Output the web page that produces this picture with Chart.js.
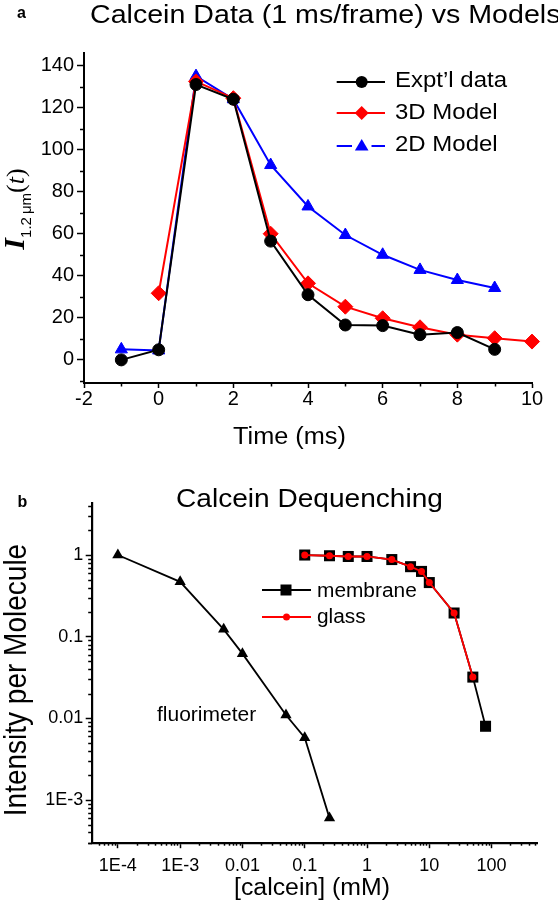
<!DOCTYPE html>
<html><head><meta charset="utf-8">
<script src="https://cdn.jsdelivr.net/npm/chart.js@4.4.1/dist/chart.umd.min.js"></script>
<style>
html,body{margin:0;padding:0;background:#fff;}
body{width:558px;height:905px;position:relative;overflow:hidden;font-family:'Liberation Sans',Arial,Helvetica,sans-serif;color:#000;}
.t{position:absolute;white-space:nowrap;line-height:1;transform-origin:0 0;}
.r{position:absolute;white-space:nowrap;line-height:1;}
canvas{position:absolute;left:0;}
svg{position:absolute;overflow:visible;}
</style></head><body>
<canvas id="cA" width="558" height="460" style="top:0;width:558px;height:460px"></canvas>
<canvas id="cB" width="558" height="445" style="top:460px;width:558px;height:445px"></canvas>

<div class="t" style="left:17px;top:4.8px;font-size:16px;font-weight:bold">a</div>
<div class="t" style="left:89.5px;top:0.6px;font-size:26px;transform:scaleX(1.1)">Calcein Data (1 ms/frame) vs Models</div>
<div class="r" style="left:16px;top:208.5px;font-size:30px;line-height:30px;transform:translate(-50%,-50%) rotate(-90deg)"><span style="font-family:'Liberation Serif',serif;font-style:italic;font-weight:bold">I</span><span style="font-size:15px;position:relative;top:7px;">1.2&#8201;μm</span><span style="font-family:'Liberation Serif',serif;font-size:26px">(<i>t</i>)</span></div>
<div class="t" style="left:233px;top:424.5px;font-size:23px;transform:scaleX(1.1)">Time (ms)</div>

<svg style="left:330px;top:71.7px" width="60" height="20"><line x1="6.7" y1="10" x2="55" y2="10" stroke="#000" stroke-width="2"/><circle cx="31.7" cy="10" r="6" fill="#000"/></svg>
<svg style="left:330px;top:103.3px" width="60" height="20"><line x1="6.7" y1="10" x2="55" y2="10" stroke="#f00" stroke-width="2"/><polygon points="31.7,3 38.7,10 31.7,17 24.7,10" fill="#f00"/></svg>
<svg style="left:330px;top:136px" width="60" height="20"><line x1="6.7" y1="10" x2="22" y2="10" stroke="#00f" stroke-width="2"/><line x1="41.5" y1="10" x2="55" y2="10" stroke="#00f" stroke-width="2"/><polygon points="31.7,3 38.5,14.5 24.9,14.5" fill="#00f"/></svg>
<div class="t" style="left:395px;top:68.7px;font-size:22px;transform:scaleX(1.09)">Expt’l data</div>
<div class="t" style="left:395px;top:100.9px;font-size:22px;transform:scaleX(1.09)">3D Model</div>
<div class="t" style="left:395px;top:133.1px;font-size:22px;transform:scaleX(1.09)">2D Model</div>

<div class="t" style="left:17.5px;top:493.8px;font-size:16px;font-weight:bold">b</div>
<div class="t" style="left:175.5px;top:484.9px;font-size:26px;transform:scaleX(1.08)">Calcein Dequenching</div>
<div class="r" style="left:16.2px;top:680px;font-size:28px;transform:translate(-50%,-50%) rotate(-90deg) scaleY(1.09)">Intensity per Molecule</div>
<div class="t" style="left:234px;top:876px;font-size:23px;transform:scaleX(1.08)">[calcein] (mM)</div>
<div class="t" style="left:157px;top:704px;font-size:20px;transform:scaleX(1.05)">fluorimeter</div>

<svg style="left:255px;top:580px" width="60" height="20"><line x1="7" y1="10" x2="56" y2="10" stroke="#000" stroke-width="2"/><rect x="25.5" y="4.5" width="11" height="11" fill="#000"/></svg>
<svg style="left:255px;top:606.7px" width="60" height="20"><line x1="7" y1="10" x2="56" y2="10" stroke="#f00" stroke-width="2"/><circle cx="31.5" cy="10" r="3.5" fill="#f00"/></svg>
<div class="t" style="left:316.7px;top:580.8px;font-size:19.5px;transform:scaleX(1.07)">membrane</div>
<div class="t" style="left:316.7px;top:606.5px;font-size:19.5px;transform:scaleX(1.07)">glass</div>

<script>
// ---------- panel a data ----------
const timeExpt = [-1, 0, 1, 2, 3, 4, 5, 6, 7, 8, 9];
const exptData = [0, 4.8, 131, 124, 56.5, 31, 16.6, 16.3, 12, 13, 5];
const time3D = [0, 1, 2, 3, 4, 5, 6, 7, 8, 9, 10];
const model3D = [31.7, 132.5, 124.5, 60, 36.4, 25.3, 19.8, 15.5, 12, 10.3, 8.7];
const time2D = [-1, 0, 1, 2, 3, 4, 5, 6, 7, 8, 9];
const model2D = [5, 4.5, 135, 124, 92.7, 73, 59.4, 50, 42.8, 38, 34.2];
const xTicksA = [-2, 0, 2, 4, 6, 8, 10];
const yTicksA = [0, 20, 40, 60, 80, 100, 120, 140];

// ---------- panel b data ----------
const fluorConc = [1e-4, 1e-3, 0.005, 0.01, 0.05, 0.1, 0.25];
const fluorInt = [1.0, 0.47, 0.123, 0.062, 0.011, 0.0058, 0.0006];
const membraneConc = [0.1, 0.25, 0.5, 1, 2.5, 5, 7.5, 10, 25, 50, 80];
const membraneInt = [1.0, 0.98, 0.96, 0.96, 0.88, 0.72, 0.63, 0.46, 0.195, 0.032, 0.008];
const glassConc = [0.1, 0.25, 0.5, 1, 2.5, 5, 7.5, 10, 25, 50];
const glassInt = [1.0, 0.98, 0.96, 0.96, 0.88, 0.72, 0.63, 0.46, 0.195, 0.032];
const xTickLabelsB = ['1E-4', '1E-3', '0.01', '0.1', '1', '10', '100'];
const yTickLabelsB = ['1E-3', '0.01', '0.1', '1'];

const FONT = "'Liberation Sans', Arial, Helvetica, sans-serif";
const pts = (xs, ys) => xs.map((x, i) => ({x: x, y: ys[i]}));

const isMinorA_x = v => !xTicksA.includes(v);
const isMinorA_y = v => !yTicksA.includes(v);
const mant = v => v / Math.pow(10, Math.floor(Math.log10(v) + 1e-9));
const isPow10 = v => Math.abs(mant(v) - 1) < 1e-6;
const isMinorLog = v => !isPow10(v);

const minorTicks = {
  id: 'minorTicks',
  afterDraw(chart, args, opts) {
    const ctx = chart.ctx;
    ctx.save();
    ctx.strokeStyle = '#000';
    ctx.lineWidth = 1.5;
    for (const id of Object.keys(opts.scales || {})) {
      const s = chart.scales[id], cfg = opts.scales[id];
      s.ticks.forEach(t => {
        if (!cfg.isMinor(t.value)) return;
        const p = Math.round(s.getPixelForValue(t.value)) + 0.5;
        ctx.beginPath();
        if (s.isHorizontal()) { ctx.moveTo(p, s.top); ctx.lineTo(p, s.top + cfg.len); }
        else { ctx.moveTo(s.right, p); ctx.lineTo(s.right - cfg.len, p); }
        ctx.stroke();
      });
    }
    ctx.restore();
  }
};

function axisGrid(isMinor, len) {
  return {
    drawOnChartArea: false, drawTicks: true, tickLength: len, tickWidth: 1.5,
    tickColor: c => (c.tick && isMinor(c.tick.value)) ? 'rgba(0,0,0,0)' : '#000'
  };
}

// ---------- chart a ----------
new Chart(document.getElementById('cA'), {
  type: 'scatter',
  data: {
    datasets: [
      {label: "Expt'l data", data: pts(timeExpt, exptData), showLine: true, borderColor: '#000', backgroundColor: '#000',
       borderWidth: 2, pointStyle: 'circle', pointRadius: 6, pointBorderWidth: 1, clip: false},
      {label: '3D Model', data: pts(time3D, model3D), showLine: true, borderColor: '#f00', backgroundColor: '#f00',
       borderWidth: 2, pointStyle: 'rectRot', pointRadius: 7.5, pointBorderWidth: 1, clip: false},
      {label: '2D Model', data: pts(time2D, model2D), showLine: true, borderColor: '#00f', backgroundColor: '#00f',
       borderWidth: 2, pointStyle: 'triangle', pointRadius: 7, pointBorderWidth: 1, clip: false}
    ]
  },
  options: {
    responsive: false, animation: false, devicePixelRatio: 1,
    layout: {padding: {top: 53, right: 26, left: 0, bottom: 0}},
    plugins: {legend: {display: false}, tooltip: {enabled: false},
      minorTicks: {scales: {x: {isMinor: isMinorA_x, len: 3.5}, y: {isMinor: isMinorA_y, len: 4}}}},
    scales: {
      x: {type: 'linear', min: -2, max: 10,
          ticks: {stepSize: 1, autoSkip: false, maxRotation: 0, padding: 1, color: '#000',
                  font: {family: FONT, size: 20, lineHeight: 1},
                  callback: v => xTicksA.includes(v) ? String(v) : ''},
          grid: axisGrid(isMinorA_x, 5),
          border: {display: true, color: '#000', width: 2},
          afterFit: s => { s.height = 77; }},
      y: {type: 'linear', min: -11, max: 146,
          ticks: {stepSize: 10, includeBounds: false, autoSkip: false, padding: 3, color: '#000',
                  font: {family: FONT, size: 20, lineHeight: 1},
                  callback: v => yTicksA.includes(v) ? String(v) : ''},
          grid: axisGrid(isMinorA_y, 7),
          border: {display: true, color: '#000', width: 2},
          afterFit: s => { s.width = 84; }}
    }
  },
  plugins: [minorTicks]
});

// ---------- chart b ----------
const keepLogTicks = s => { s.ticks = s.ticks.filter(t => Math.abs(mant(t.value) - Math.round(mant(t.value))) < 1e-6); };
new Chart(document.getElementById('cB'), {
  type: 'scatter',
  data: {
    datasets: [
      {label: 'glass', data: pts(glassConc, glassInt), showLine: true, borderColor: '#f00', backgroundColor: '#f00',
       borderWidth: 1.8, pointStyle: 'circle', pointRadius: 3.5, pointBorderWidth: 0, clip: false},
      {label: 'membrane', data: pts(membraneConc, membraneInt), showLine: true, borderColor: '#000', backgroundColor: '#000',
       borderWidth: 1.8, pointStyle: 'rect', pointRadius: 7.8, pointBorderWidth: 0, clip: false},
      {label: 'fluorimeter', data: pts(fluorConc, fluorInt), showLine: true, borderColor: '#000', backgroundColor: '#000',
       borderWidth: 1.8, pointStyle: 'triangle', pointRadius: 6.5, pointBorderWidth: 0, clip: false}
    ]
  },
  options: {
    responsive: false, animation: false, devicePixelRatio: 1,
    layout: {padding: {top: 43.3, right: 20.3, left: 0, bottom: 0}},
    plugins: {legend: {display: false}, tooltip: {enabled: false},
      minorTicks: {scales: {x: {isMinor: isMinorLog, len: 3}, y: {isMinor: isMinorLog, len: 3.5}}}},
    scales: {
      x: {type: 'logarithmic', min: 3.8e-5, max: 550,
          afterBuildTicks: keepLogTicks,
          ticks: {autoSkip: false, maxRotation: 0, padding: 9, color: '#000',
                  font: {family: FONT, size: 18, lineHeight: 1},
                  callback: v => isPow10(v) ? (xTickLabelsB[Math.round(Math.log10(v)) + 4] || '') : ''},
          grid: axisGrid(isMinorLog, 5.5),
          border: {display: true, color: '#000', width: 2.2},
          afterFit: s => { s.height = 62.3; }},
      y: {type: 'logarithmic', min: 3e-4, max: 4.3,
          afterBuildTicks: keepLogTicks,
          ticks: {autoSkip: false, padding: 2.5, color: '#000',
                  font: {family: FONT, size: 18, lineHeight: 1},
                  callback: v => isPow10(v) ? (yTickLabelsB[Math.round(Math.log10(v)) + 3] || '') : ''},
          grid: axisGrid(isMinorLog, 6),
          border: {display: true, color: '#000', width: 2.2},
          afterFit: s => { s.width = 91.7; }}
    }
  },
  plugins: [minorTicks]
});
</script>
</body></html>
